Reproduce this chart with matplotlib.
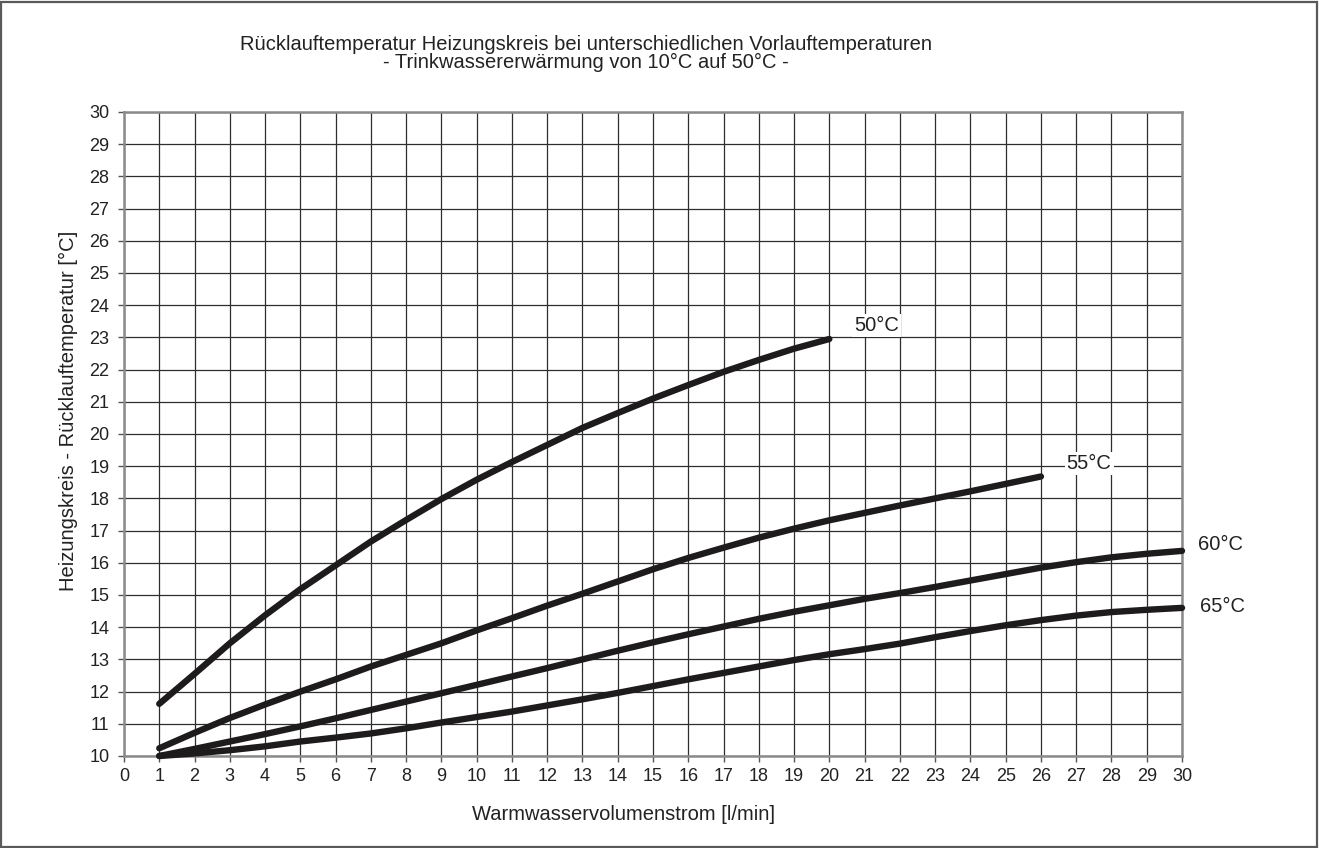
import matplotlib.pyplot as plt
from matplotlib.patches import Rectangle
import numpy as np

# Warmwasservolumenstrom [l/min]
flow_50 = np.arange(1, 21)
flow_55 = np.arange(1, 27)
flow_60 = np.arange(1, 31)
flow_65 = np.arange(1, 31)

# Ruecklauftemperatur [°C]
return_50 = [11.62, 12.55, 13.50, 14.37, 15.18, 15.92, 16.66, 17.33, 17.98, 18.58,
             19.13, 19.66, 20.19, 20.65, 21.10, 21.52, 21.93, 22.30, 22.65, 22.95]
return_55 = [10.24, 10.72, 11.18, 11.60, 12.00, 12.38, 12.78, 13.14, 13.50, 13.90,
             14.28, 14.67, 15.04, 15.42, 15.80, 16.15, 16.47, 16.78, 17.06, 17.32,
             17.55, 17.78, 18.00, 18.22, 18.45, 18.68]
return_60 = [10.00, 10.22, 10.45, 10.68, 10.92, 11.17, 11.43, 11.69, 11.95, 12.21,
             12.47, 12.73, 13.00, 13.27, 13.53, 13.78, 14.02, 14.26, 14.48, 14.68,
             14.88, 15.06, 15.25, 15.45, 15.65, 15.85, 16.02, 16.17, 16.28, 16.37]
return_65 = [10.00, 10.08, 10.18, 10.30, 10.45, 10.57, 10.70, 10.86, 11.04, 11.21,
             11.38, 11.57, 11.76, 11.96, 12.17, 12.38, 12.58, 12.78, 12.98, 13.16,
             13.32, 13.49, 13.69, 13.88, 14.06, 14.22, 14.36, 14.47, 14.54, 14.60]

curve_labels = ["50°C", "55°C", "60°C", "65°C"]
x_ticks = np.arange(0, 31)
y_ticks = np.arange(10, 31)

title_1 = "Rücklauftemperatur Heizungskreis bei unterschiedlichen Vorlauftemperaturen"
title_2 = "- Trinkwassererwärmung von 10°C auf 50°C -"
x_title = "Warmwasservolumenstrom [l/min]"
y_title = "Heizungskreis - Rücklauftemperatur [°C]"

plt.rcParams["font.family"] = ["Liberation Sans", "DejaVu Sans"]
plt.rcParams["font.size"] = 12

W, H = 1319, 848
fig = plt.figure(figsize=(W / 100, H / 100), dpi=100)
ax = fig.add_axes([124 / W, 1 - 756 / H, (1182 - 124) / W, (756 - 112) / H])

# outer frame of the picture
fig.patches.append(Rectangle((1 / W, 1 / H), 1 - 3 / W, 1 - 3 / H,
                             transform=fig.transFigure, fill=False,
                             edgecolor="#5a5a5a", linewidth=1.6))

ax.set_xlim(0, 30)
ax.set_ylim(10, 30)
ax.set_xticks(x_ticks)
ax.set_yticks(y_ticks)
ax.grid(color="#2e2e2e", linewidth=0.9)
ax.set_axisbelow(True)
for spine in ax.spines.values():
    spine.set_color("#8a8a8a")
    spine.set_linewidth(1.8)
ax.tick_params(axis="both", color="#555555", length=4.5, width=1,
               labelsize=13, labelcolor="#222222")
ax.tick_params(axis="x", pad=4)
ax.tick_params(axis="y", pad=6)

curves = [(flow_50, return_50), (flow_55, return_55),
          (flow_60, return_60), (flow_65, return_65)]
for x, y in curves:
    ax.plot(x, y, color="#1e1b1c", linewidth=4.6,
            solid_capstyle="round", solid_joinstyle="round",
            clip_on=False, zorder=3)

label_box = dict(facecolor="white", edgecolor="none", pad=1.5)
ax.text(20.7, 23.38, curve_labels[0], fontsize=14.5, va="center",
        color="#222222", bbox=label_box, zorder=4)
ax.text(26.73, 19.07, curve_labels[1], fontsize=14.5, va="center",
        color="#222222", bbox=label_box, zorder=4)
ax.text(30.45, 16.58, curve_labels[2], fontsize=14.5, va="center",
        color="#222222", clip_on=False)
ax.text(30.5, 14.64, curve_labels[3], fontsize=14.5, va="center",
        color="#222222", clip_on=False)

fig.text(586 / W, 1 - 44 / H, title_1, ha="center", va="center",
         fontsize=14.5, color="#222222")
fig.text(586 / W, 1 - 62 / H, title_2, ha="center", va="center",
         fontsize=14.5, color="#222222")
fig.text(623 / W, 1 - 814 / H, x_title, ha="center", va="center",
         fontsize=14.5, color="#222222")
fig.text(68 / W, 1 - 411 / H, y_title, ha="center", va="center",
         rotation=90, fontsize=14.5, color="#222222")

plt.savefig("out.png", dpi=100)
